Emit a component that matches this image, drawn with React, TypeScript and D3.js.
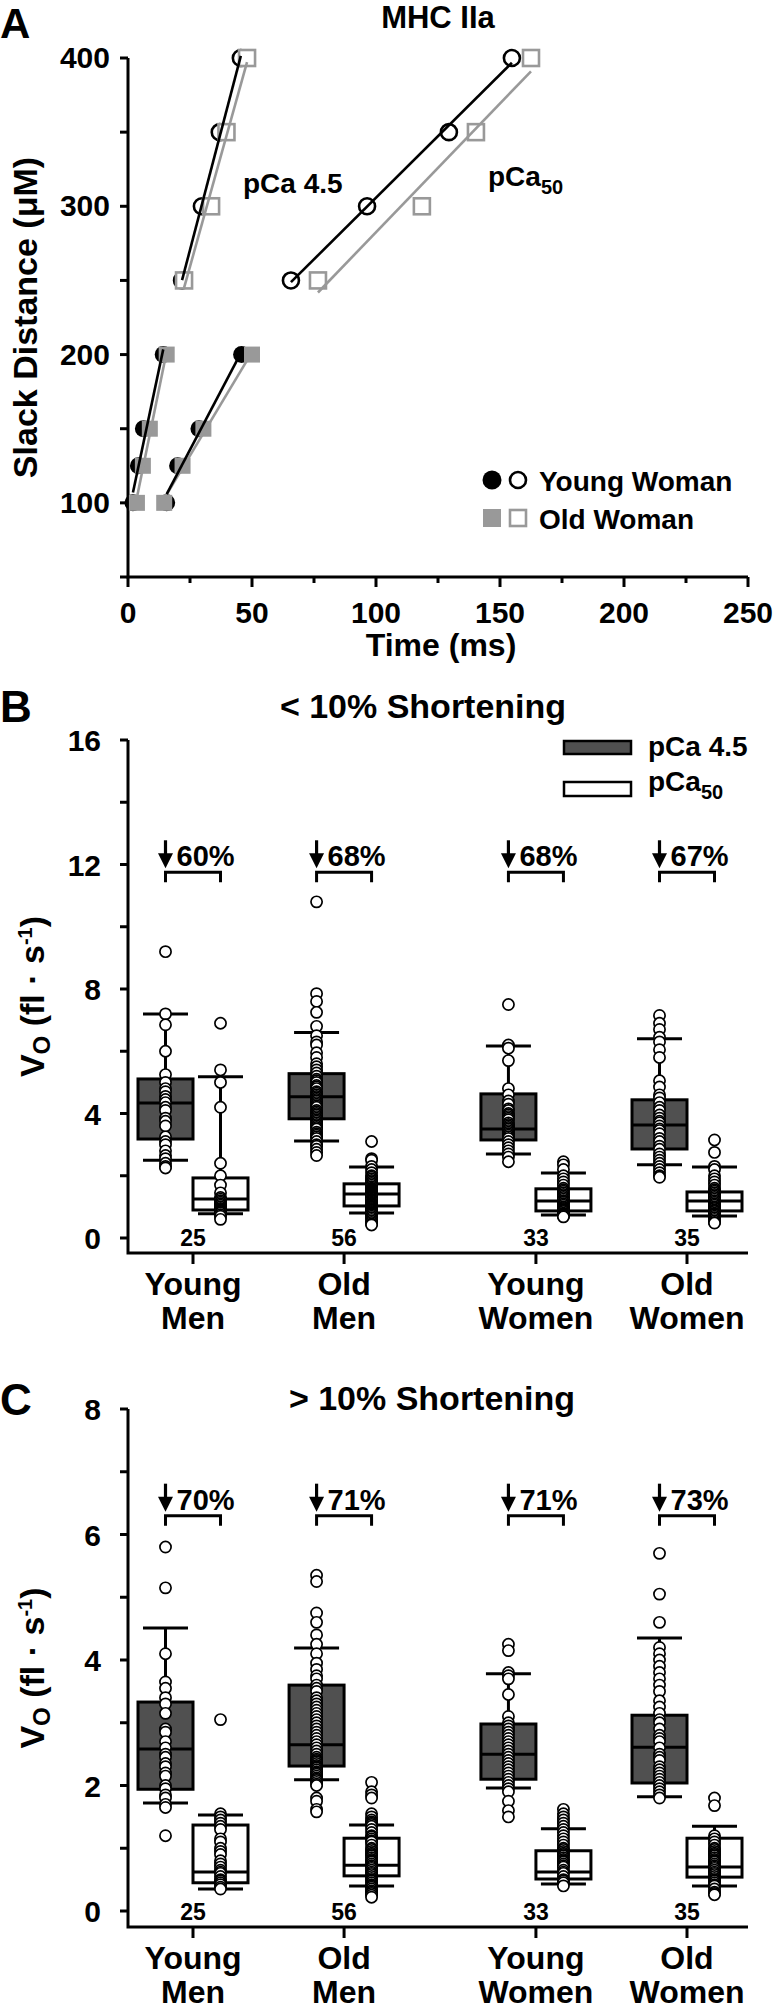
import React from "react";
import * as d3 from "d3";

const FONT = "'Liberation Sans', Arial, Helvetica, sans-serif";
const GREY = "#999999";
const DARK = "#505050";

// ---------- panel A : slack test ----------
const slackLow = [100, 125, 150, 200];
const slackHigh = [250, 300, 350, 400];
const leftYoungT = [2, 4.2, 6.2, 14.2];
const leftOldT = [3.6, 6, 8.8, 15.6];
const rightYoungT = [15.6, 20, 28.6, 45.8];
const rightOldT = [14.6, 22, 30.4, 50];
const maxYoungT = [21.8, 29.8, 37, 45.5];
const maxOldT = [22.6, 33.5, 39.7, 48];
const halfYoungT = [65.7, 96.4, 129.4, 154.8];
const halfOldT = [76.6, 118.5, 140.3, 162.5];
const timeTicks = [0, 50, 100, 150, 200, 250];
const timeMinor = [25, 75, 125, 175, 225];
const slackTicks = [100, 200, 300, 400];
const slackMinor = [50, 150, 250, 350];

// ---------- panels B and C : box plots ----------
const groups = [
  ["Young", "Men"],
  ["Old", "Men"],
  ["Young", "Women"],
  ["Old", "Women"],
];
const nFibres = [25, 56, 33, 35];

// [lower whisker, q1, median, q3, upper whisker]
const lowMaxBox = [
  [2.5, 3.18, 4.34, 5.11, 7.2],
  [3.12, 3.83, 4.54, 5.28, 6.6],
  [2.7, 3.15, 3.5, 4.63, 6.17],
  [2.35, 2.86, 3.63, 4.44, 6.4],
];
const lowHalfBox = [
  [0.78, 0.9, 1.25, 1.93, 5.18],
  [0.8, 1.03, 1.41, 1.74, 2.28],
  [0.74, 0.87, 1.19, 1.58, 2.09],
  [0.71, 0.87, 1.19, 1.48, 2.28],
];
const lowMaxDots = [
  [9.2, 7.2, 6.85, 6.0, 5.25, 5.0, 4.8, 4.7, 4.55, 4.45, 4.35, 4.2, 4.1, 3.85, 3.75, 3.6, 3.25, 3.1, 3.0, 2.8, 2.65, 2.55, 2.4, 2.3, 2.25],
  [10.8, 7.85, 7.6, 7.25, 6.8, 6.5, 6.3, 6.2, 5.95, 5.8, 5.6, 5.5, 5.4, 5.3, 5.2, 5.1, 5.05, 5.0, 4.9, 4.85, 4.8, 4.7, 4.65, 4.6, 4.55, 4.5, 4.45, 4.4, 4.35, 4.3, 4.25, 4.2, 4.1, 4.05, 4.0, 3.95, 3.9, 3.85, 3.8, 3.75, 3.7, 3.65, 3.6, 3.55, 3.5, 3.4, 3.35, 3.3, 3.25, 3.2, 3.1, 3.0, 2.95, 2.85, 2.75, 2.65],
  [7.5, 6.2, 6.1, 5.7, 4.8, 4.6, 4.4, 4.3, 4.15, 4.1, 4.0, 3.95, 3.9, 3.85, 3.8, 3.7, 3.65, 3.6, 3.55, 3.5, 3.45, 3.4, 3.35, 3.3, 3.25, 3.2, 3.1, 3.0, 2.9, 2.8, 2.7, 2.6, 2.45],
  [7.15, 6.9, 6.7, 6.45, 6.3, 6.05, 5.8, 5.05, 4.85, 4.6, 4.5, 4.35, 4.2, 4.1, 3.95, 3.85, 3.75, 3.7, 3.6, 3.5, 3.45, 3.35, 3.2, 3.1, 2.95, 2.85, 2.7, 2.6, 2.5, 2.4, 2.3, 2.2, 2.1, 2.0, 1.95],
];
const lowHalfDots = [
  [6.9, 5.4, 5.0, 4.2, 2.4, 2.0, 1.7, 1.45, 1.3, 1.25, 1.2, 1.15, 1.1, 1.05, 1.0, 0.95, 0.92, 0.9, 0.87, 0.85, 0.82, 0.8, 0.75, 0.7, 0.6],
  [3.1, 2.55, 2.5, 2.3, 2.2, 2.1, 2.0, 1.95, 1.9, 1.85, 1.8, 1.75, 1.7, 1.65, 1.6, 1.58, 1.55, 1.52, 1.5, 1.48, 1.45, 1.42, 1.4, 1.38, 1.35, 1.32, 1.3, 1.28, 1.25, 1.22, 1.2, 1.18, 1.15, 1.12, 1.1, 1.08, 1.05, 1.02, 1.0, 0.98, 0.95, 0.92, 0.9, 0.88, 0.85, 0.82, 0.8, 0.78, 0.75, 0.7, 0.65, 0.6, 0.55, 0.5, 0.45, 0.42],
  [2.45, 2.35, 2.2, 2.0, 1.9, 1.8, 1.7, 1.6, 1.55, 1.5, 1.45, 1.4, 1.35, 1.3, 1.25, 1.2, 1.18, 1.15, 1.1, 1.05, 1.0, 0.98, 0.95, 0.92, 0.9, 0.88, 0.85, 0.8, 0.78, 0.75, 0.72, 0.7, 0.68],
  [3.15, 2.75, 2.3, 2.2, 2.0, 1.9, 1.8, 1.7, 1.6, 1.55, 1.5, 1.45, 1.4, 1.35, 1.3, 1.25, 1.2, 1.15, 1.1, 1.05, 1.0, 0.98, 0.95, 0.9, 0.88, 0.85, 0.8, 0.78, 0.75, 0.7, 0.65, 0.6, 0.55, 0.5, 0.48],
];
const lowDrop = ["60%", "68%", "68%", "67%"];

const highMaxBox = [
  [1.72, 1.94, 2.58, 3.33, 4.51],
  [2.09, 2.31, 2.65, 3.6, 4.19],
  [1.96, 2.1, 2.5, 2.98, 3.78],
  [1.82, 2.04, 2.61, 3.12, 4.35],
];
const highHalfBox = [
  [0.35, 0.45, 0.62, 1.37, 1.53],
  [0.4, 0.56, 0.73, 1.16, 1.37],
  [0.43, 0.51, 0.62, 0.96, 1.31],
  [0.4, 0.54, 0.7, 1.16, 1.35],
];
const highMaxDots = [
  [5.8, 5.15, 4.1, 3.65, 3.55, 3.4, 3.3, 3.15, 2.9, 2.85, 2.7, 2.6, 2.5, 2.45, 2.35, 2.3, 2.2, 2.15, 2.0, 1.95, 1.85, 1.8, 1.7, 1.65, 1.2],
  [5.35, 5.25, 4.75, 4.6, 4.4, 4.25, 4.1, 3.95, 3.85, 3.75, 3.7, 3.6, 3.55, 3.5, 3.4, 3.35, 3.3, 3.25, 3.2, 3.15, 3.1, 3.05, 3.0, 2.95, 2.9, 2.85, 2.8, 2.75, 2.7, 2.65, 2.6, 2.55, 2.5, 2.45, 2.42, 2.4, 2.38, 2.35, 2.32, 2.3, 2.28, 2.25, 2.22, 2.2, 2.18, 2.15, 2.12, 2.1, 2.08, 2.05, 2.02, 2.0, 1.8, 1.75, 1.62, 1.58],
  [4.25, 4.15, 3.8, 3.75, 3.7, 3.45, 3.1, 3.0, 2.95, 2.9, 2.85, 2.8, 2.75, 2.7, 2.65, 2.6, 2.55, 2.5, 2.45, 2.4, 2.35, 2.3, 2.25, 2.2, 2.15, 2.1, 2.05, 2.0, 1.95, 1.9, 1.75, 1.6, 1.5],
  [5.7, 5.05, 4.6, 4.2, 4.1, 4.0, 3.9, 3.8, 3.7, 3.6, 3.5, 3.35, 3.25, 3.15, 3.05, 3.0, 2.9, 2.8, 2.75, 2.7, 2.6, 2.5, 2.45, 2.4, 2.3, 2.25, 2.2, 2.15, 2.1, 2.05, 2.0, 1.95, 1.9, 1.85, 1.8],
];
const highHalfDots = [
  [3.05, 1.55, 1.5, 1.45, 1.4, 1.35, 1.3, 1.15, 1.1, 1.0, 0.95, 0.9, 0.8, 0.75, 0.7, 0.65, 0.62, 0.6, 0.55, 0.5, 0.48, 0.45, 0.42, 0.38, 0.35],
  [2.05, 1.9, 1.85, 1.8, 1.55, 1.5, 1.45, 1.42, 1.4, 1.38, 1.35, 1.3, 1.25, 1.2, 1.18, 1.15, 1.12, 1.1, 1.05, 1.0, 0.98, 0.95, 0.92, 0.9, 0.88, 0.85, 0.82, 0.8, 0.78, 0.75, 0.72, 0.7, 0.68, 0.65, 0.62, 0.6, 0.58, 0.55, 0.52, 0.5, 0.48, 0.45, 0.42, 0.4, 0.38, 0.35, 0.32, 0.3, 0.28, 0.25, 0.22],
  [1.62, 1.55, 1.5, 1.45, 1.4, 1.35, 1.3, 1.25, 1.2, 1.15, 1.1, 1.05, 1.0, 0.98, 0.95, 0.92, 0.9, 0.88, 0.85, 0.82, 0.8, 0.78, 0.75, 0.72, 0.7, 0.65, 0.62, 0.6, 0.55, 0.5, 0.48, 0.45, 0.4],
  [1.8, 1.68, 1.2, 1.15, 1.1, 1.05, 1.0, 0.98, 0.95, 0.92, 0.9, 0.88, 0.85, 0.82, 0.8, 0.78, 0.75, 0.72, 0.7, 0.68, 0.65, 0.62, 0.6, 0.58, 0.55, 0.52, 0.5, 0.48, 0.45, 0.42, 0.4, 0.35, 0.3, 0.28, 0.26],
];
const highDrop = ["70%", "71%", "71%", "73%"];

// least squares line over the x range of the points
function fitLine(xs: number[], ys: number[]) {
  const mx = d3.mean(xs)!, my = d3.mean(ys)!;
  let sxy = 0, sxx = 0;
  xs.forEach((x, i) => {
    sxy += (x - mx) * (ys[i] - my);
    sxx += (x - mx) * (x - mx);
  });
  const b = sxy / sxx;
  const x0 = d3.min(xs)!, x1 = d3.max(xs)!;
  return [[x0, my + b * (x0 - mx)], [x1, my + b * (x1 - mx)]] as [number, number][];
}

const txt = { fontFamily: FONT, fontWeight: 700 } as const;

function PanelA() {
  const x = d3.scaleLinear().domain([0, 250]).range([128, 748]);
  const y = d3.scaleLinear().domain([50, 400]).range([577, 58]);
  const line = d3.line<[number, number]>().x(d => x(d[0])).y(d => y(d[1]));
  const sets = [
    { t: leftYoungT, d: slackLow, young: true, filled: true },
    { t: rightYoungT, d: slackLow, young: true, filled: true },
    { t: maxYoungT, d: slackHigh, young: true, filled: false },
    { t: halfYoungT, d: slackHigh, young: true, filled: false },
    { t: leftOldT, d: slackLow, young: false, filled: true },
    { t: rightOldT, d: slackLow, young: false, filled: true },
    { t: maxOldT, d: slackHigh, young: false, filled: false },
    { t: halfOldT, d: slackHigh, young: false, filled: false },
  ];
  const S = 16;
  return (
    <g>
      <text x={0} y={38} fontSize={42} {...txt}>A</text>
      <text x={438} y={28} fontSize={31} textAnchor="middle" {...txt}>MHC IIa</text>
      {/* axes */}
      <path d={`M${x(0)},${y(400)}V${y(50)}H${x(250)}`} fill="none" stroke="#000" strokeWidth={3} />
      {slackTicks.concat(slackMinor).map(v => (
        <line key={"ya" + v} x1={x(0) - 8} x2={x(0)} y1={y(v)} y2={y(v)} stroke="#000" strokeWidth={3} />
      ))}
      {slackTicks.map(v => (
        <text key={"yl" + v} x={110} y={y(v) + 10} fontSize={30} textAnchor="end" {...txt}>{v}</text>
      ))}
      {timeTicks.map(v => (
        <g key={"xa" + v}>
          <line x1={x(v)} x2={x(v)} y1={y(50)} y2={y(50) + 10} stroke="#000" strokeWidth={3} />
          <text x={x(v)} y={623} fontSize={30} textAnchor="middle" {...txt}>{v}</text>
        </g>
      ))}
      {timeMinor.map(v => (
        <line key={"xm" + v} x1={x(v)} x2={x(v)} y1={y(50)} y2={y(50) + 6} stroke="#000" strokeWidth={3} />
      ))}
      <text x={441} y={656} fontSize={32} textAnchor="middle" {...txt}>Time (ms)</text>
      <text transform={`translate(37,${(y(400) + y(50)) / 2}) rotate(-90)`} fontSize={34} textAnchor="middle" {...txt}>
        Slack Distance (μM)
      </text>
      {/* young: circles */}
      {sets.filter(s => s.young).map((s, k) =>
        s.t.map((t, i) => (
          <circle key={`c${k}-${i}`} cx={x(t)} cy={y(s.d[i])} r={s.filled ? 8.5 : 8}
            fill={s.filled ? "#000" : "#fff"} stroke="#000" strokeWidth={s.filled ? 0 : 2.6} />
        ))
      )}
      {/* old: squares */}
      {sets.filter(s => !s.young).map((s, k) =>
        s.t.map((t, i) => (
          <rect key={`s${k}-${i}`} x={x(t) - S / 2} y={y(s.d[i]) - S / 2} width={S} height={S}
            fill={s.filled ? GREY : "#fff"} stroke={GREY} strokeWidth={s.filled ? 0 : 2.6} />
        ))
      )}
      {sets.filter(s => !s.young).map((s, k) => (
        <path key={"gl" + k} d={line(fitLine(s.t, s.d))!} stroke={GREY} strokeWidth={2.6} fill="none" />
      ))}
      {sets.filter(s => s.young).map((s, k) => (
        <path key={"bl" + k} d={line(fitLine(s.t, s.d))!} stroke="#000" strokeWidth={2.6} fill="none" />
      ))}
      <text x={243} y={193} fontSize={28} {...txt}>pCa 4.5</text>
      <text x={488} y={186} fontSize={28} {...txt}>pCa<tspan fontSize={20} dy={8}>50</tspan></text>
      {/* legend */}
      <circle cx={492} cy={480} r={9.5} fill="#000" />
      <circle cx={518} cy={480} r={8} fill="#fff" stroke="#000" strokeWidth={2.6} />
      <text x={539} y={491} fontSize={28} {...txt}>Young Woman</text>
      <rect x={483} y={509} width={18} height={18} fill={GREY} />
      <rect x={510} y={510} width={16} height={16} fill="#fff" stroke={GREY} strokeWidth={2.6} />
      <text x={539} y={529} fontSize={28} {...txt}>Old Woman</text>
    </g>
  );
}

type BoxCfg = {
  letter: string;
  letterY: number;
  title: string;
  titleX: number;
  titleY: number;
  domain: [number, number];
  range: [number, number];
  major: number[];
  minor: number[];
  axisY: number;
  bracket: number;
  maxBox: number[][];
  halfBox: number[][];
  maxDots: number[][];
  halfDots: number[][];
  drop: string[];
  legend: boolean;
};

function BoxPanel({ c }: { c: BoxCfg }) {
  const y = d3.scaleLinear().domain(c.domain).range(c.range);
  const slot = (i: number) => i + (i >= 2 ? 0.27 : 0);
  const x = d3.scaleLinear().domain([0, 3.27]).range([193, 687]);
  const BW = 55, CAP = 45;
  const x0 = 128, x1 = 748;
  const top = y(c.domain[1]);

  const box = (cx: number, s: number[], fill: string, key: string) => (
    <g key={key}>
      <line x1={cx} x2={cx} y1={y(s[3])} y2={y(s[4])} stroke="#000" strokeWidth={3} />
      <line x1={cx} x2={cx} y1={y(s[1])} y2={y(s[0])} stroke="#000" strokeWidth={3} />
      <line x1={cx - CAP / 2} x2={cx + CAP / 2} y1={y(s[4])} y2={y(s[4])} stroke="#000" strokeWidth={3} />
      <line x1={cx - CAP / 2} x2={cx + CAP / 2} y1={y(s[0])} y2={y(s[0])} stroke="#000" strokeWidth={3} />
      <rect x={cx - BW / 2} y={y(s[3])} width={BW} height={y(s[1]) - y(s[3])} fill={fill} stroke="#000" strokeWidth={3} />
      <line x1={cx - BW / 2} x2={cx + BW / 2} y1={y(s[2])} y2={y(s[2])} stroke="#000" strokeWidth={3} />
    </g>
  );
  const dots = (cx: number, vals: number[], key: string) =>
    vals.map((v, i) => (
      <circle key={key + i} cx={cx} cy={y(v)} r={5.6} fill="#fff" stroke="#000" strokeWidth={1.7} />
    ));

  const yMid = (top + c.axisY) / 2;
  const by = y(c.bracket);

  return (
    <g>
      <text x={0} y={c.letterY} fontSize={44} {...txt}>{c.letter}</text>
      <text x={c.titleX} y={c.titleY} fontSize={34} textAnchor="middle" {...txt}>{c.title}</text>
      <path d={`M${x0},${top}V${c.axisY}H${x1}`} fill="none" stroke="#000" strokeWidth={3} />
      {c.major.concat(c.minor).map(v => (
        <line key={"t" + v} x1={x0 - 8} x2={x0} y1={y(v)} y2={y(v)} stroke="#000" strokeWidth={3} />
      ))}
      {c.major.map(v => (
        <text key={"l" + v} x={101} y={y(v) + 11} fontSize={30} textAnchor="end" {...txt}>{v}</text>
      ))}
      <text transform={`translate(44,${yMid}) rotate(-90)`} fontSize={34} textAnchor="middle" {...txt}>
        V<tspan fontSize={24} dy={6}>O</tspan>
        <tspan dy={-6}> (fl · s</tspan>
        <tspan fontSize={20} dy={-12}>-1</tspan>
        <tspan dy={12}>)</tspan>
      </text>
      {groups.map((g, i) => {
        const gx = x(slot(i));
        return (
          <g key={"g" + i}>
            <line x1={gx} x2={gx} y1={c.axisY} y2={c.axisY + 11} stroke="#000" strokeWidth={3} />
            <text x={gx} y={c.axisY + 42} fontSize={32} textAnchor="middle" {...txt}>{g[0]}</text>
            <text x={gx} y={c.axisY + 76} fontSize={32} textAnchor="middle" {...txt}>{g[1]}</text>
            <text x={gx} y={c.axisY - 7} fontSize={23} textAnchor="middle" {...txt}>{nFibres[i]}</text>
            {box(gx - BW / 2, c.maxBox[i], DARK, "bm" + i)}
            {box(gx + BW / 2, c.halfBox[i], "#fff", "bh" + i)}
            {dots(gx - BW / 2, c.maxDots[i], "dm" + i + "-")}
            {dots(gx + BW / 2, c.halfDots[i], "dh" + i + "-")}
            {/* drop annotation */}
            <path d={`M${gx - BW / 2},${by + 10}V${by}H${gx + BW / 2}V${by + 10}`} fill="none" stroke="#000" strokeWidth={3} />
            <line x1={gx - BW / 2} x2={gx - BW / 2} y1={by - 32} y2={by - 14} stroke="#000" strokeWidth={3.2} />
            <path d={`M${gx - BW / 2 - 7.5},${by - 19}L${gx - BW / 2 + 7.5},${by - 19}L${gx - BW / 2},${by - 4}Z`} fill="#000" />
            <text x={gx - BW / 2 + 11} y={by - 6} fontSize={29} {...txt}>{c.drop[i]}</text>
          </g>
        );
      })}
      {c.legend && (
        <g>
          <rect x={564} y={741} width={67} height={13} fill={DARK} stroke="#000" strokeWidth={2.5} />
          <text x={648} y={756} fontSize={28} {...txt}>pCa 4.5</text>
          <rect x={564} y={782} width={67} height={14} fill="#fff" stroke="#000" strokeWidth={2.5} />
          <text x={648} y={791} fontSize={28} {...txt}>pCa<tspan fontSize={20} dy={8}>50</tspan></text>
        </g>
      )}
    </g>
  );
}

const panelB: BoxCfg = {
  letter: "B", letterY: 722, title: "< 10% Shortening", titleX: 423, titleY: 718,
  domain: [0, 16], range: [1238, 740], major: [0, 4, 8, 12, 16], minor: [2, 6, 10, 14],
  axisY: 1253, bracket: 11.75,
  maxBox: lowMaxBox, halfBox: lowHalfBox, maxDots: lowMaxDots, halfDots: lowHalfDots,
  drop: lowDrop, legend: true,
};
const panelC: BoxCfg = {
  letter: "C", letterY: 1415, title: "> 10% Shortening", titleX: 432, titleY: 1410,
  domain: [0, 8], range: [1911, 1409], major: [0, 2, 4, 6, 8], minor: [1, 3, 5, 7],
  axisY: 1927, bracket: 6.3,
  maxBox: highMaxBox, halfBox: highHalfBox, maxDots: highMaxDots, halfDots: highHalfDots,
  drop: highDrop, legend: false,
};

export default function App() {
  return (
    <svg width={775} height={2011} style={{ position: "absolute", left: 0, top: 0, background: "#fff" }}>
      <PanelA />
      <BoxPanel c={panelB} />
      <BoxPanel c={panelC} />
    </svg>
  );
}
